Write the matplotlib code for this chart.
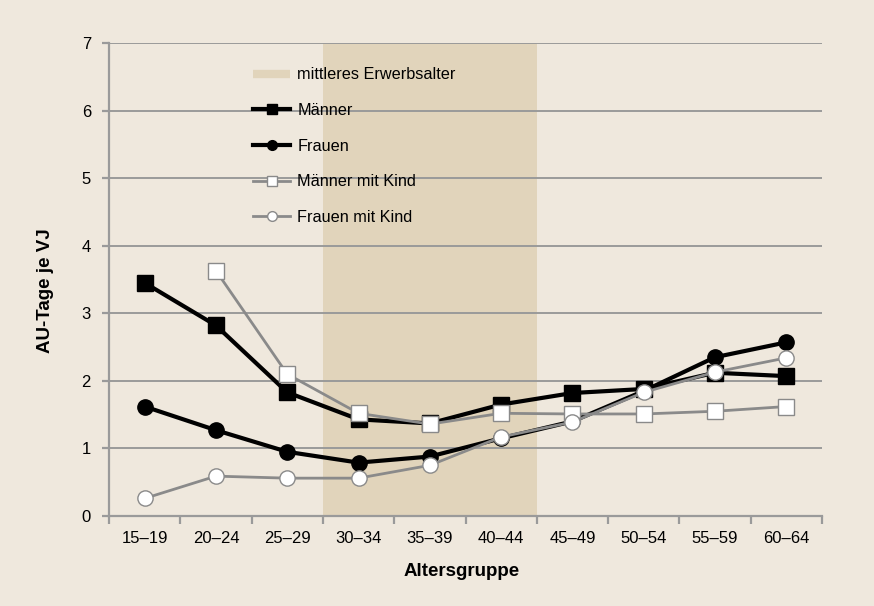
import matplotlib
matplotlib.use("Agg")
import matplotlib.pyplot as plt
import numpy as np
from matplotlib.lines import Line2D

categories = ["15–19", "20–24", "25–29", "30–34", "35–39", "40–44",
              "45–49", "50–54", "55–59", "60–64"]
maenner = [3.45, 2.82, 1.83, 1.43, 1.37, 1.65, 1.82, 1.88, 2.12, 2.07]
frauen = [1.62, 1.27, 0.95, 0.79, 0.88, 1.15, 1.40, 1.85, 2.35, 2.57]
maenner_kind = [np.nan, 3.63, 2.10, 1.52, 1.36, 1.52, 1.51, 1.51, 1.55, 1.62]
frauen_kind = [0.26, 0.59, 0.56, 0.56, 0.75, 1.17, 1.39, 1.83, 2.13, 2.34]
band_start, band_end = "30–34", "40–44"

bg = "#efe8dd"
band_col = "#e1d4bb"
gray_line = "#8a8a8a"
grid_col = "#9a9a9a"

plt.rcParams['font.family'] = ['Liberation Sans', 'DejaVu Sans']

W, H = 874, 606
fig = plt.figure(figsize=(W / 100, H / 100), dpi=100, facecolor=bg)
ax = fig.add_axes([109 / W, 1 - 516 / H, 713 / W, 473 / H])
ax.set_facecolor(bg)

x = np.arange(len(categories))
i0 = categories.index(band_start)
i1 = categories.index(band_end)
ax.axvspan(i0 - 0.5, i1 + 0.5, color=band_col, zorder=0, lw=0)

ax.set_ylim(0, 7)
ax.set_xlim(-0.5, len(categories) - 0.5)
ax.set_yticks(range(0, 8))
ax.yaxis.grid(True, color=grid_col, lw=1.4, zorder=0.5)
ax.set_axisbelow(True)

lw_b = 3.0
lw_g = 2.0
ax.plot(x, maenner, color="black", lw=lw_b, marker="s", ms=11,
        mfc="black", mec="black", zorder=3)
ax.plot(x, frauen, color="black", lw=lw_b, marker="o", ms=11,
        mfc="black", mec="black", zorder=3)
ax.plot(x, maenner_kind, color=gray_line, lw=lw_g, marker="s", ms=11,
        mfc="white", mec=gray_line, mew=1.0, zorder=4)
ax.plot(x, frauen_kind, color=gray_line, lw=lw_g, marker="o", ms=11,
        mfc="white", mec=gray_line, mew=1.0, zorder=4)

for s in ["top", "right"]:
    ax.spines[s].set_visible(False)
for s in ["left", "bottom"]:
    ax.spines[s].set_color(grid_col)
    ax.spines[s].set_linewidth(1.6)

ax.set_xticks(x)
ax.set_xticklabels(categories, fontsize=12)
ax.set_xticks(np.arange(-0.5, len(categories)), minor=True)
ax.tick_params(axis="x", which="major", length=0, pad=11)
ax.tick_params(axis="x", which="minor", length=6, width=1.6, color=grid_col)
ax.tick_params(axis="y", length=5, width=1.6, color=grid_col, labelsize=12, pad=8)

fig.text(461.5 / W, 1 - 571 / H, "Altersgruppe", fontsize=13.5, fontweight="bold",
         ha="center", va="center")
fig.text(45 / W, 1 - 291 / H, "AU-Tage je VJ", fontsize=13.5, fontweight="bold",
         ha="center", va="center", rotation=90)

handles = [
    Line2D([], [], color=band_col, lw=6, solid_capstyle="butt"),
    Line2D([], [], color="black", lw=lw_b, marker="s", ms=7, mfc="black", mec="black"),
    Line2D([], [], color="black", lw=lw_b, marker="o", ms=7, mfc="black", mec="black"),
    Line2D([], [], color=gray_line, lw=lw_g, marker="s", ms=7, mfc="white", mec=gray_line),
    Line2D([], [], color=gray_line, lw=lw_g, marker="o", ms=7, mfc="white", mec=gray_line),
]
labels = ["mittleres Erwerbsalter", "Männer", "Frauen",
          "Männer mit Kind", "Frauen mit Kind"]
leg = ax.legend(handles, labels, loc="upper left", bbox_to_anchor=(0.193, 0.962),
                frameon=False, fontsize=11.7, labelspacing=1.27, handlelength=2.3,
                handletextpad=0.43, borderaxespad=0)

fig.savefig("out.png", dpi=100, facecolor=bg)
